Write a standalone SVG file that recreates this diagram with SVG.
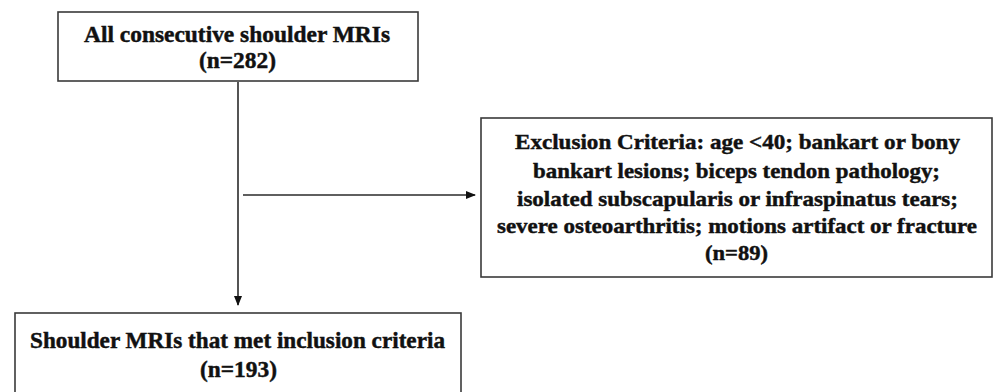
<svg xmlns="http://www.w3.org/2000/svg" width="998" height="392" viewBox="0 0 998 392">
<style>
.box{fill:#fff;stroke:#3a3a3a;stroke-width:1.6}
.t{font-family:"Liberation Serif","Times New Roman",serif;font-weight:bold;fill:#111;stroke:#111;stroke-width:0.45;text-anchor:middle}
.big{font-size:23px}
.sm{font-size:22px}
.edge{stroke:#2a2a2a;stroke-width:1.6;fill:none}
</style>
<defs>
<marker id="ah" markerWidth="10" markerHeight="8" refX="9" refY="4" orient="auto" markerUnits="userSpaceOnUse">
<path d="M0,0 L10,4 L0,8 z" fill="#111"/>
</marker>
</defs>
<rect width="998" height="392" fill="#fff"/>
<g id="connectors">
<line class="edge" x1="238" y1="82" x2="238" y2="305" marker-end="url(#ah)"/>
<line class="edge" x1="243" y1="195" x2="475" y2="195" marker-end="url(#ah)"/>
</g>
<g id="node-all">
<rect class="box" x="58" y="12" width="360" height="69"/>
<text class="t big" x="237" y="42" textLength="306" lengthAdjust="spacingAndGlyphs">All consecutive shoulder MRIs</text>
<text class="t big" x="237.5" y="68" textLength="77" lengthAdjust="spacingAndGlyphs">(n=282)</text>
</g>
<g id="node-exclusion">
<rect class="box" x="481" y="118" width="511" height="159"/>
<text class="t sm" x="737.5" y="149" textLength="445" lengthAdjust="spacingAndGlyphs">Exclusion Criteria: age &lt;40; bankart or bony</text>
<text class="t sm" x="736.5" y="178" textLength="407" lengthAdjust="spacingAndGlyphs">bankart lesions; biceps tendon pathology;</text>
<text class="t sm" x="737.5" y="206" textLength="441" lengthAdjust="spacingAndGlyphs">isolated subscapularis or infraspinatus tears;</text>
<text class="t sm" x="737" y="233" textLength="480" lengthAdjust="spacingAndGlyphs">severe osteoarthritis; motions artifact or fracture</text>
<text class="t sm" x="736.5" y="260" textLength="63" lengthAdjust="spacingAndGlyphs">(n=89)</text>
</g>
<g id="node-included">
<rect class="box" x="15" y="313" width="446" height="82"/>
<text class="t big" x="237.5" y="348" textLength="415" lengthAdjust="spacingAndGlyphs">Shoulder MRIs that met inclusion criteria</text>
<text class="t big" x="238.5" y="377" textLength="77" lengthAdjust="spacingAndGlyphs">(n=193)</text>
</g>
</svg>
